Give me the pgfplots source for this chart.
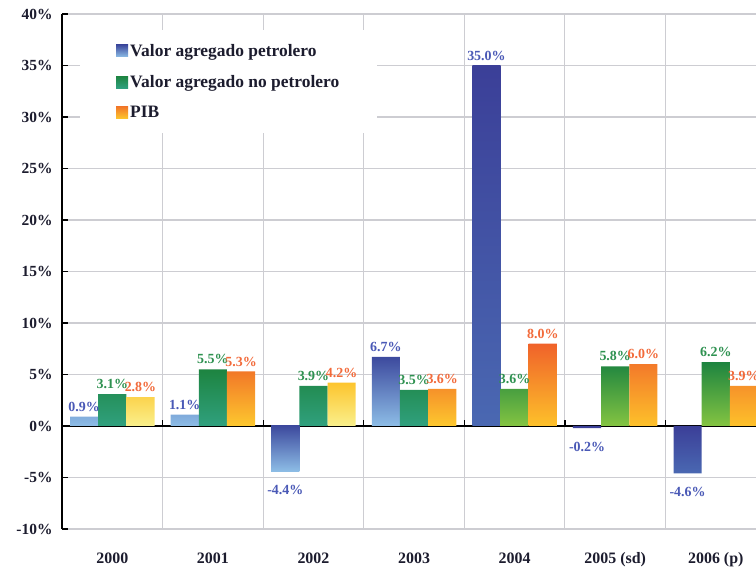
\documentclass[border=0pt]{standalone}
\usepackage{pgfplots}
\pgfplotsset{compat=1.18}
\usepackage{fontspec}
\setmainfont{Liberation Serif}
\definecolor{gridgray}{HTML}{CDCDD2}
\definecolor{labeltext}{HTML}{1C1C2E}
\definecolor{bluelab}{HTML}{4A59B6}
\definecolor{greenlab}{HTML}{2E9150}
\definecolor{orangelab}{HTML}{F26A3A}
\pgfplotsset{
  bluenode/.style={every node near coord/.append style={text=bluelab, xshift=-28.16bp}},
  bluenegnode/.style={every node near coord/.append style={text=bluelab, xshift=-28.16bp, yshift=-9bp}},
  greennode/.style={every node near coord/.append style={text=greenlab}},
  orangenode/.style={every node near coord/.append style={text=orangelab, xshift=28.16bp}},
}
\begin{document}
\begin{tikzpicture}
\begin{axis}[
  name=ax, scale only axis, width=694bp, height=515bp,
  xmin=-0.5, xmax=6.4, ymin=-10, ymax=40,
  axis lines*=left,
  x axis line style={draw=none},
  y axis line style={draw=black, line width=1.6pt},
  /pgf/number format/assume math mode=true,
  ytick={-10,-5,...,40},
  yticklabel={\pgfmathprintnumber{\tick}\%},
  y tick style={draw=black, line width=1.4pt},
  major tick length=6bp, tick align=inside,
  ymajorgrids, grid style={draw=gridgray, line width=1.1pt},
  xtick={0,...,6},
  xticklabels={2000,2001,2002,2003,2004,2005 (sd),2006 (p)},
  x tick style={draw=none},
  minor xtick={0.5,1.5,...,6.5}, xminorgrids,
  minor x tick style={draw=none},
  minor grid style={draw=gridgray, line width=1.1pt},
  yticklabel style={font=\bfseries\fontsize{15.5}{17}\selectfont, text=labeltext, xshift=-6bp},
  xticklabel style={font=\bfseries\fontsize{16}{18}\selectfont, text=labeltext, yshift=-20bp},
  extra y ticks={0}, extra y tick labels={},
  extra y tick style={grid style={draw=black, line width=1.3pt}},
  nodes near coords={\pgfmathprintnumber[fixed, fixed zerofill, precision=1]{\pgfplotspointmeta}\%},
  nodes near coords align={vertical},
  every node near coord/.append style={font=\bfseries\fontsize{14}{16}\selectfont, inner sep=5bp},
  legend style={at={(0.026,0.969)}, anchor=north west, draw=none, fill=white,
    inner xsep=36bp, inner ysep=12bp, row sep=13.5bp,
    font=\bfseries\fontsize{17.5}{19}\selectfont, text=labeltext},
  legend cell align=left,
  legend image code/.code={\fill[#1] (0bp,-6bp) rectangle (12bp,6bp);},
]
% legend-bearing groups
\addplot[ybar, bar width=0.28, bar shift=-0.28, draw=none,
  top color={rgb,255:red,61;green,74;blue,158}, bottom color={rgb,255:red,141;green,189;blue,230},
  bluenode]
  coordinates {(0,0.9) (1,1.1) (3,6.7)};
\addlegendentry{Valor agregado petrolero}
\addplot[ybar, bar width=0.28, bar shift=0, draw=none,
  top color={rgb,255:red,29;green,132;blue,64}, bottom color={rgb,255:red,48;green,160;blue,126},
  greennode]
  coordinates {(0,3.1) (1,5.5) (2,3.9) (3,3.5)};
\addlegendentry{Valor agregado no petrolero}
\addplot[ybar, bar width=0.28, bar shift=0.28, draw=none,
  top color={rgb,255:red,242;green,120;blue,40}, bottom color={rgb,255:red,253;green,200;blue,46},
  orangenode]
  coordinates {(1,5.3) (3,3.6)};
\addlegendentry{PIB}
% further groups
\addplot[forget plot, ybar, bar width=0.28, bar shift=-0.28, draw=none,
  top color={rgb,255:red,61;green,74;blue,158}, bottom color={rgb,255:red,141;green,189;blue,230},
  bluenegnode]
  coordinates {(2,-4.4)};
\addplot[forget plot, ybar, bar width=0.28, bar shift=0.28, draw=none,
  top color={rgb,255:red,253;green,197;blue,46}, bottom color={rgb,255:red,249;green,240;blue,140},
  orangenode]
  coordinates {(0,2.8) (2,4.2)};
\addplot[forget plot, ybar, bar width=0.28, bar shift=-0.28, draw=none,
  top color={rgb,255:red,59;green,63;blue,152}, bottom color={rgb,255:red,74;green,104;blue,178},
  bluenode]
  coordinates {(4,35.0)};
\addplot[forget plot, ybar, bar width=0.28, bar shift=-0.28, draw=none,
  top color={rgb,255:red,59;green,63;blue,152}, bottom color={rgb,255:red,74;green,104;blue,178},
  bluenegnode]
  coordinates {(5,-0.2) (6,-4.6)};
\addplot[forget plot, ybar, bar width=0.28, bar shift=0, draw=none,
  top color={rgb,255:red,29;green,132;blue,64}, bottom color={rgb,255:red,132;green,196;blue,65},
  greennode]
  coordinates {(4,3.6) (5,5.8) (6,6.2)};
\addplot[forget plot, ybar, bar width=0.28, bar shift=0.28, draw=none,
  top color={rgb,255:red,240;green,98;blue,42}, bottom color={rgb,255:red,253;green,193;blue,42},
  orangenode]
  coordinates {(4,8.0) (5,6.0) (6,3.9)};
\pgfplotsinvokeforeach{0.5,1.5,2.5,3.5,4.5,5.5}{
  \draw[black, line width=1.3pt] (axis cs:#1,0) -- (axis cs:#1,0.6);
}
\end{axis}
\pgfresetboundingbox
\path ([xshift=-62bp,yshift=-40bp]ax.south west) rectangle ([yshift=14bp]ax.north east);
\end{tikzpicture}
\end{document}
